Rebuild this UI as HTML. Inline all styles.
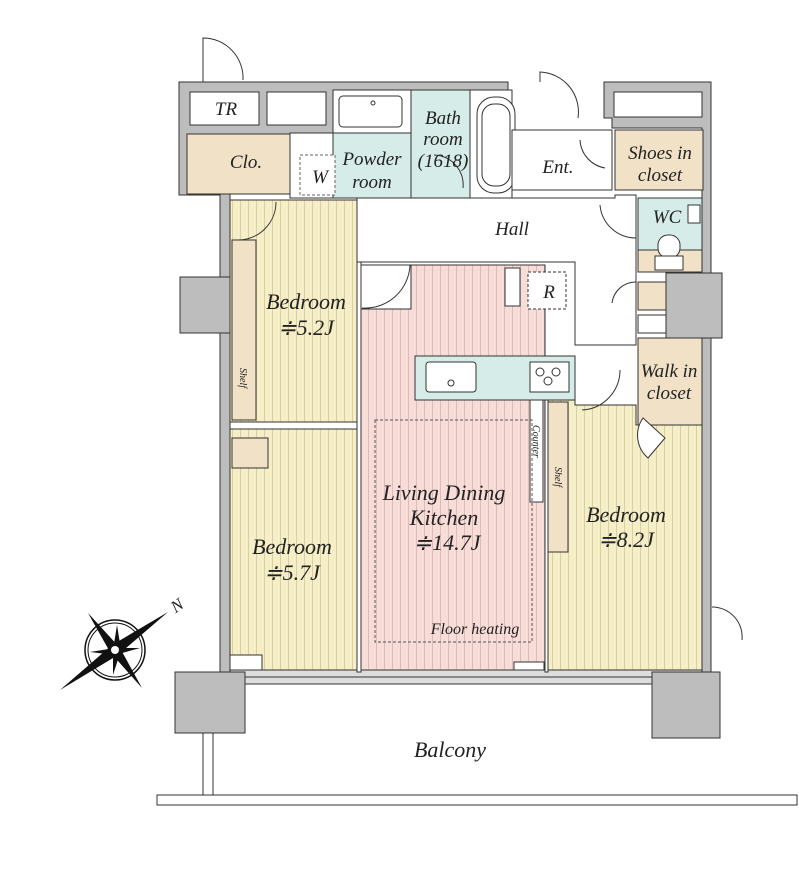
<!DOCTYPE html>
<html><head><meta charset="utf-8"><style>
html,body{margin:0;padding:0;background:#fff;width:799px;height:871px;overflow:hidden}
text{font-family:"Liberation Serif",serif;font-style:italic;fill:#222}
</style></head><body>
<svg width="799" height="871" viewBox="0 0 799 871" xmlns="http://www.w3.org/2000/svg">
<defs>
<pattern id="py" width="8" height="10" patternUnits="userSpaceOnUse"><rect width="8" height="10" fill="#f6eec6"/><line x1="0.5" y1="0" x2="0.5" y2="10" stroke="#d8cfa6" stroke-width="1"/></pattern>
<pattern id="pp" width="8" height="10" patternUnits="userSpaceOnUse"><rect width="8" height="10" fill="#f8dcd8"/><line x1="0.5" y1="0" x2="0.5" y2="10" stroke="#dcbcb8" stroke-width="1"/></pattern>
</defs>
<g stroke="#333" stroke-width="1">
<!-- outer walls -->
<path d="M179 82 H508 V128 H333 V134 H187 V185 H230 V680 H220 V195 H179 Z" fill="#bdbdbd"/>
<path d="M604 82 H711 V680 H702 V128 H612 V118 H604 Z" fill="#bdbdbd"/>
<rect x="180" y="277" width="50" height="56" fill="#bdbdbd"/>
<rect x="666" y="273" width="56" height="65" fill="#bdbdbd"/>
<!-- top boxes -->
<rect x="190" y="92" width="69" height="33" fill="#fff"/>
<rect x="267" y="92" width="59" height="33" fill="#fff"/>
<rect x="614" y="92" width="88" height="25" fill="#fff"/>
<!-- rooms -->
<rect x="187" y="134" width="103" height="60" fill="#f1e1c6"/>
<rect x="333" y="90" width="78" height="43" fill="#fff"/>
<rect x="339" y="96" width="63" height="31" rx="4" fill="#fff"/>
<circle cx="373" cy="103" r="2" fill="#fff"/>
<rect x="333" y="133" width="78" height="65" fill="#d6ece8"/>
<rect x="290" y="133" width="43" height="65" fill="#fff"/>
<rect x="300" y="155" width="35" height="40" fill="#fff" stroke="#666" stroke-dasharray="3 2"/>
<rect x="411" y="90" width="59" height="108" fill="#d6ece8"/>
<rect x="470" y="90" width="42" height="108" fill="#fff"/>
<rect x="477" y="97" width="38" height="96" rx="17" fill="#fff"/>
<rect x="482" y="104" width="28" height="82" rx="12" fill="#fff"/>
<rect x="512" y="130" width="100" height="60" fill="#fff"/>
<rect x="615" y="130" width="88" height="60" fill="#f1e1c6"/>
<!-- hall -->
<path d="M357 198 H615 V195 H636 V345 H575 V262 H357 Z" fill="#fff"/>
<rect x="638" y="198" width="64" height="72" fill="#d6ece8"/>
<rect x="638" y="250" width="64" height="22" fill="#f1e1c6"/>
<line x1="638" y1="250" x2="702" y2="250" stroke-dasharray="3 2"/>
<rect x="658" y="235" width="22" height="23" rx="10" fill="#fff"/>
<rect x="655" y="256" width="28" height="14" fill="#fff"/>
<rect x="688" y="205" width="12" height="18" fill="#fff"/>
<rect x="638" y="282" width="28" height="28" fill="#f1e1c6"/>
<rect x="638" y="315" width="28" height="18" fill="#fff"/>
<rect x="638" y="338" width="64" height="87" fill="#f1e1c6"/>
<!-- bedrooms -->
<rect x="230" y="200" width="127" height="222" fill="url(#py)"/>
<rect x="232" y="240" width="24" height="180" fill="#f1e1c6"/>
<rect x="230" y="422" width="127" height="7" fill="#fff"/>
<rect x="230" y="429" width="127" height="241" fill="url(#py)"/>
<rect x="232" y="438" width="36" height="30" fill="#f1e1c6"/>
<rect x="230" y="655" width="32" height="15" fill="#fff"/>
<!-- LDK -->
<rect x="361" y="265" width="184" height="405" fill="url(#pp)"/>
<rect x="361" y="265" width="50" height="44" fill="#fff"/>
<rect x="505" y="268" width="15" height="38" fill="#fff"/>
<rect x="528" y="272" width="38" height="37" fill="#fff" stroke-dasharray="3 2"/>
<rect x="415" y="356" width="160" height="44" fill="#d6ece8"/>
<rect x="426" y="362" width="50" height="30" rx="3" fill="#fff"/>
<circle cx="451" cy="383" r="3" fill="#fff"/>
<rect x="530" y="362" width="39" height="30" fill="#fff"/>
<circle cx="540" cy="372" r="4" fill="#fff"/><circle cx="556" cy="372" r="4" fill="#fff"/><circle cx="548" cy="381" r="4" fill="#fff"/>
<rect x="530" y="400" width="13" height="102" fill="#fff"/>
<rect x="375" y="420" width="157" height="222" fill="none" stroke="#555" stroke-dasharray="3 2"/>
<rect x="514" y="662" width="30" height="8" fill="#fff"/>
<!-- bedroom 8.2 -->
<path d="M548 400 H575 V405 H636 V425 H702 V672 H548 Z" fill="url(#py)"/>
<rect x="548" y="402" width="20" height="150" fill="#f1e1c6"/>
<!-- doors -->
<path d="M362 308 A45 45 0 0 0 410 265" fill="none"/>
<path d="M582 410 A40 40 0 0 0 620 370" fill="none"/>
<path d="M238 240 A38 38 0 0 0 276 202" fill="none"/>
<path d="M605 168 A30 30 0 0 1 580 140" fill="none"/>
<path d="M636 238 A36 36 0 0 1 600 205" fill="none"/>
<path d="M612 303 A24 24 0 0 1 636 282" fill="none"/>
<path d="M540 82 V72 A40 40 0 0 1 578 118" fill="none"/>
<path d="M203 82 V38 A40 40 0 0 1 243 80" fill="none"/>
<path d="M643 418 L665 438 L648 458 A30 30 0 0 1 643 418Z" fill="#fff"/>
<path d="M434 155 A30 30 0 0 1 463 188" fill="none"/>
<path d="M712 607 A30 30 0 0 1 742 640" fill="none"/>
<!-- bottom wall / windows -->
<rect x="230" y="670" width="472" height="14" fill="#ddd"/>
<line x1="230" y1="677" x2="702" y2="677"/>
<rect x="175" y="672" width="70" height="61" fill="#bdbdbd"/>
<rect x="652" y="672" width="68" height="66" fill="#bdbdbd"/>
<rect x="357" y="262" width="4" height="410" fill="#fff"/>
<rect x="545" y="400" width="3" height="272" fill="#fff"/>
<!-- balcony -->
<rect x="203" y="733" width="10" height="62" fill="#fff"/>
<rect x="157" y="795" width="640" height="10" fill="#fff"/>
</g>
<!-- compass -->
<g>
<circle cx="115" cy="650" r="30" fill="none" stroke="#111" stroke-width="1.5"/>
<circle cx="115" cy="650" r="27" fill="none" stroke="#111" stroke-width="1"/>
<polygon points="60,690 112,645 118,655" fill="#111"/>
<polygon points="168,612 112,645 118,655" fill="#111"/>
<polygon points="88,613 110,652 120,648" fill="#111"/>
<polygon points="142,688 110,652 120,648" fill="#111"/>
<polygon points="117,625 113,650 121,650" fill="#111"/>
<polygon points="113,675 113,650 121,650" fill="#111"/>
<polygon points="90,652 115,648 115,655" fill="#111"/>
<polygon points="140,648 115,648 115,655" fill="#111"/>
<circle cx="115" cy="650" r="4" fill="#fff"/>
<text x="172" y="612" font-size="17" transform="rotate(-35 176 607)">N</text>
</g>
<!-- labels -->
<g font-size="19">
<text x="226" y="115" text-anchor="middle">TR</text>
<text x="246" y="168" text-anchor="middle">Clo.</text>
<text x="320" y="183" text-anchor="middle">W</text>
<text x="372" y="165" text-anchor="middle">Powder</text>
<text x="372" y="188" text-anchor="middle">room</text>
<text x="443" y="124" text-anchor="middle">Bath</text>
<text x="443" y="145" text-anchor="middle">room</text>
<text x="443" y="167" text-anchor="middle">(1618)</text>
<text x="558" y="173" text-anchor="middle">Ent.</text>
<text x="660" y="159" text-anchor="middle">Shoes in</text>
<text x="660" y="181" text-anchor="middle">closet</text>
<text x="512" y="235" text-anchor="middle">Hall</text>
<text x="667" y="223" text-anchor="middle">WC</text>
<text x="549" y="298" text-anchor="middle">R</text>
<text x="669" y="377" text-anchor="middle">Walk in</text>
<text x="669" y="399" text-anchor="middle">closet</text>
<text x="306" y="309" text-anchor="middle" font-size="22">Bedroom</text>
<text x="306" y="335" text-anchor="middle" font-size="22">≑5.2J</text>
<text x="292" y="554" text-anchor="middle" font-size="22">Bedroom</text>
<text x="292" y="580" text-anchor="middle" font-size="22">≑5.7J</text>
<text x="444" y="500" text-anchor="middle" font-size="22">Living Dining</text>
<text x="444" y="525" text-anchor="middle" font-size="22">Kitchen</text>
<text x="447" y="550" text-anchor="middle" font-size="22">≑14.7J</text>
<text x="626" y="522" text-anchor="middle" font-size="22">Bedroom</text>
<text x="626" y="547" text-anchor="middle" font-size="22">≑8.2J</text>
<text x="475" y="634" text-anchor="middle" font-size="16">Floor heating</text>
<text x="450" y="757" text-anchor="middle" font-size="22">Balcony</text>
<text font-size="10" transform="translate(240 368) rotate(90)">Shelf</text>
<text font-size="10" transform="translate(533 425) rotate(90)">Counter</text>
<text font-size="10" transform="translate(555 467) rotate(90)">Shelf</text>
</g>
</svg>
</body></html>
